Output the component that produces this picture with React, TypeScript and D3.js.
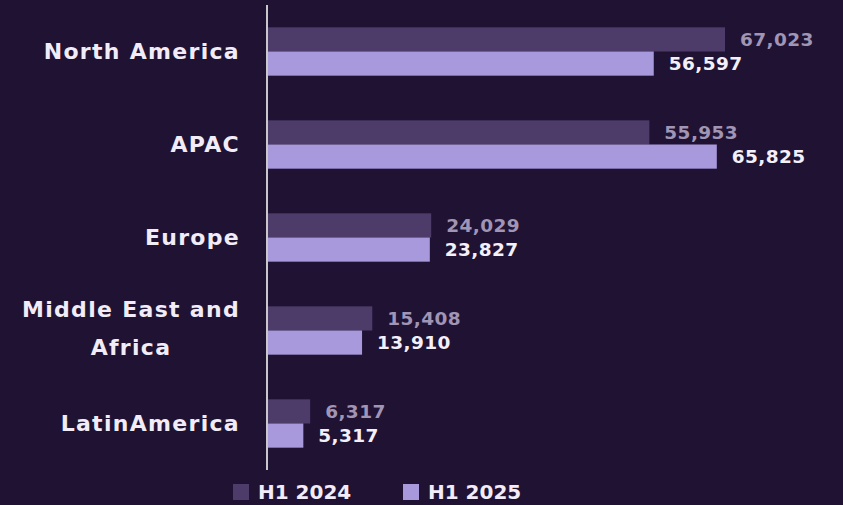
import React from "react";
import * as d3 from "d3";

const regions = ["North America", "APAC", "Europe", "Middle East and Africa", "LatinAmerica"];
const regionLines = [["North America"], ["APAC"], ["Europe"], ["Middle East and", "Africa"], ["LatinAmerica"]];
const series = ["H1 2024", "H1 2025"];
const h1_2024 = [67023, 55953, 24029, 15408, 6317];
const h1_2025 = [56597, 65825, 23827, 13910, 5317];

const width = 843;
const height = 505;
const bg = "#1f1233";
const colors = ["#4d3c69", "#a898dc"];
const labelColors = ["#a195b5", "#f4f0fa"];
const font = "'DejaVu Sans', sans-serif";

export default function App() {
  const axisX = 267;

  const x = d3.scaleLinear().domain([0, 67023]).range([axisX, 725]);

  const y = d3.scaleBand().domain(regions).range([5, 470]).paddingInner(0.48).paddingOuter(0.24);

  const inner = d3.scaleBand().domain(series).range([0, y.bandwidth()]);

  const values = [h1_2024, h1_2025];

  return (
    <svg width={width} height={height} style={{ position: "absolute", left: 0, top: 0, display: "block" }}>
      <rect width={width} height={height} fill={bg} />

      {regions.map((r, i) => (
        <g key={r}>
          {/* bars */}
          {series.map((s, j) => (
            <rect
              key={s}
              x={x(0)}
              y={y(r)! + inner(s)!}
              width={x(values[j][i]) - x(0)}
              height={inner.bandwidth()}
              fill={colors[j]}
            />
          ))}
          {/* value labels */}
          {series.map((s, j) => (
            <text
              key={s + "-lbl"}
              x={x(values[j][i]) + 15}
              y={y(r)! + inner(s)! + inner.bandwidth() / 2}
              dy="0.36em"
              fontFamily={font}
              fontWeight="bold"
              fontSize={18.5}
              letterSpacing={0.4}
              fill={labelColors[j]}
            >
              {d3.format(",")(values[j][i])}
            </text>
          ))}
          {/* category label */}
          {regionLines[i].length === 1 ? (
            <text
              x={240}
              y={y(r)! + y.bandwidth() / 2}
              dy="0.36em"
              textAnchor="end"
              fontFamily={font}
              fontWeight="bold"
              fontSize={22}
              letterSpacing={1.3}
              fill="#f1ecf7"
            >
              {regionLines[i][0]}
            </text>
          ) : (
            <text
              x={131}
              y={y(r)! + y.bandwidth() / 2}
              textAnchor="middle"
              fontFamily={font}
              fontWeight="bold"
              fontSize={22}
              letterSpacing={1.3}
              fill="#f1ecf7"
            >
              {regionLines[i].map((line, k) => (
                <tspan key={k} x={131} dy={k === 0 ? "-0.6em" : "1.7em"}>
                  {line}
                </tspan>
              ))}
            </text>
          )}
        </g>
      ))}

      {/* axis line */}
      <line x1={axisX} x2={axisX} y1={5} y2={470} stroke="#c9c6cc" strokeWidth={2} />

      {/* legend */}
      {series.map((s, j) => (
        <g key={s} transform={`translate(${233 + j * 170}, 484)`}>
          <rect x={0} y={0} width={16} height={16} fill={colors[j]} />
          <text x={25} y={8} dy="0.36em" fontFamily={font} fontWeight="bold" fontSize={20} fill="#f1ecf7">
            {s}
          </text>
        </g>
      ))}
    </svg>
  );
}
